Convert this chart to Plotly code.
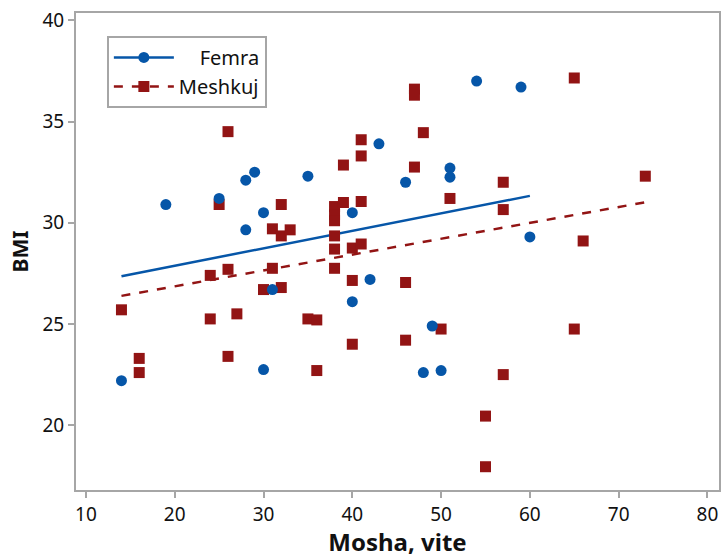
import plotly.graph_objects as go
import numpy as np

# Femra (female) observations: age, BMI
femra_age = [14, 19, 25, 28, 29, 28, 30, 35, 30, 31, 40, 40, 43, 46, 51, 51, 42, 49, 48, 50, 54, 59, 60]
femra_bmi = [22.2, 30.9, 31.2, 32.1, 32.5, 29.65, 30.5, 32.3, 22.75, 26.7, 30.5, 26.1, 33.9, 32.0,
             32.7, 32.25, 27.2, 24.9, 22.6, 22.7, 37.0, 36.7, 29.3]

# Meshkuj (male) observations: age, BMI
meshkuj_age = [14, 16, 16, 24, 24, 25, 26, 26, 26, 27, 30, 31, 31, 32, 32, 32, 33, 35, 36, 36,
               38, 38, 38, 38, 38, 38, 39, 39, 40, 40, 40, 41, 41, 41, 41, 46, 46, 47, 47, 47,
               48, 50, 51, 55, 55, 57, 57, 57, 65, 65, 66, 73]
meshkuj_bmi = [25.7, 23.3, 22.6, 27.4, 25.25, 30.9, 34.5, 27.7, 23.4, 25.5, 26.7, 29.7, 27.75, 30.9,
               29.35, 26.8, 29.65, 25.25, 25.2, 22.7, 30.8, 30.4, 30.1, 29.35, 28.7, 27.75, 32.85,
               31.0, 28.75, 27.15, 24.0, 34.1, 33.3, 31.05, 28.95, 27.05, 24.2, 36.6, 36.3, 32.75,
               34.45, 24.75, 31.2, 20.45, 17.95, 32.0, 30.65, 22.5, 37.15, 24.75, 29.1, 32.3]

# Fitted regression lines (intercept, slope)
femra_fit = [26.15, 0.0863]
meshkuj_fit = [25.29, 0.0784]

series_names = ["Femra", "Meshkuj"]
x_ticks = [10, 20, 30, 40, 50, 60, 70, 80]
y_ticks = [20, 25, 30, 35, 40]

BLUE = "#0656a8"
RED = "#921414"
GRID = "#a6a6a6"
FONT = "Noto Sans"

fig = go.Figure()

fx = np.array([min(femra_age), max(femra_age)], dtype=float)
mx = np.array([min(meshkuj_age), max(meshkuj_age)], dtype=float)

fig.add_trace(go.Scatter(x=fx, y=femra_fit[0] + femra_fit[1] * fx, mode="lines",
                         line=dict(color=BLUE, width=2.5), showlegend=False, hoverinfo="skip"))
fig.add_trace(go.Scatter(x=mx, y=meshkuj_fit[0] + meshkuj_fit[1] * mx, mode="lines",
                         line=dict(color=RED, width=2.5, dash="dash"), showlegend=False, hoverinfo="skip"))

fig.add_trace(go.Scatter(x=meshkuj_age, y=meshkuj_bmi, mode="markers",
                         marker=dict(symbol="square", size=11, color=RED), showlegend=False))
fig.add_trace(go.Scatter(x=femra_age, y=femra_bmi, mode="markers",
                         marker=dict(symbol="circle", size=11, color=BLUE), showlegend=False))

# legend entries
fig.add_trace(go.Scatter(x=[None], y=[None], mode="lines+markers", name="\u00a0\u00a0\u00a0\u00a0" + series_names[0],
                         line=dict(color=BLUE, width=2.5),
                         marker=dict(symbol="circle", size=11, color=BLUE)))
fig.add_trace(go.Scatter(x=[None], y=[None], mode="lines+markers", name=series_names[1],
                         line=dict(color=RED, width=2.5, dash="dash"),
                         marker=dict(symbol="square", size=11, color=RED)))

axis_common = dict(showgrid=False, zeroline=False, showline=True, linecolor=GRID, linewidth=2,
                   mirror=True, ticks="outside", ticklen=6, tickwidth=2, tickcolor=GRID,
                   tickfont=dict(family=FONT, size=19, color="#111111"))

fig.update_xaxes(range=[8.88, 81.3], tickvals=x_ticks,
                 title=dict(text="<b>Mosha, vite</b>", font=dict(family=FONT, size=24, color="#111111"),
                            standoff=4),
                 **axis_common)
fig.update_yaxes(range=[16.8, 40.36], tickvals=y_ticks,
                 title=dict(text="<b>BMI</b>", font=dict(family=FONT, size=21, color="#111111"),
                            standoff=8),
                 **axis_common)

fig.update_layout(
    width=724, height=558,
    margin=dict(l=76, r=3, t=13, b=68),
    paper_bgcolor="white", plot_bgcolor="white",
    font=dict(family=FONT),
    legend=dict(x=0.048, y=0.952, xanchor="left", yanchor="top",
                bordercolor=GRID, borderwidth=2, bgcolor="white",
                itemwidth=60, tracegroupgap=0,
                font=dict(family=FONT, size=20, color="#111111")),
)

fig.write_html("out.html")
